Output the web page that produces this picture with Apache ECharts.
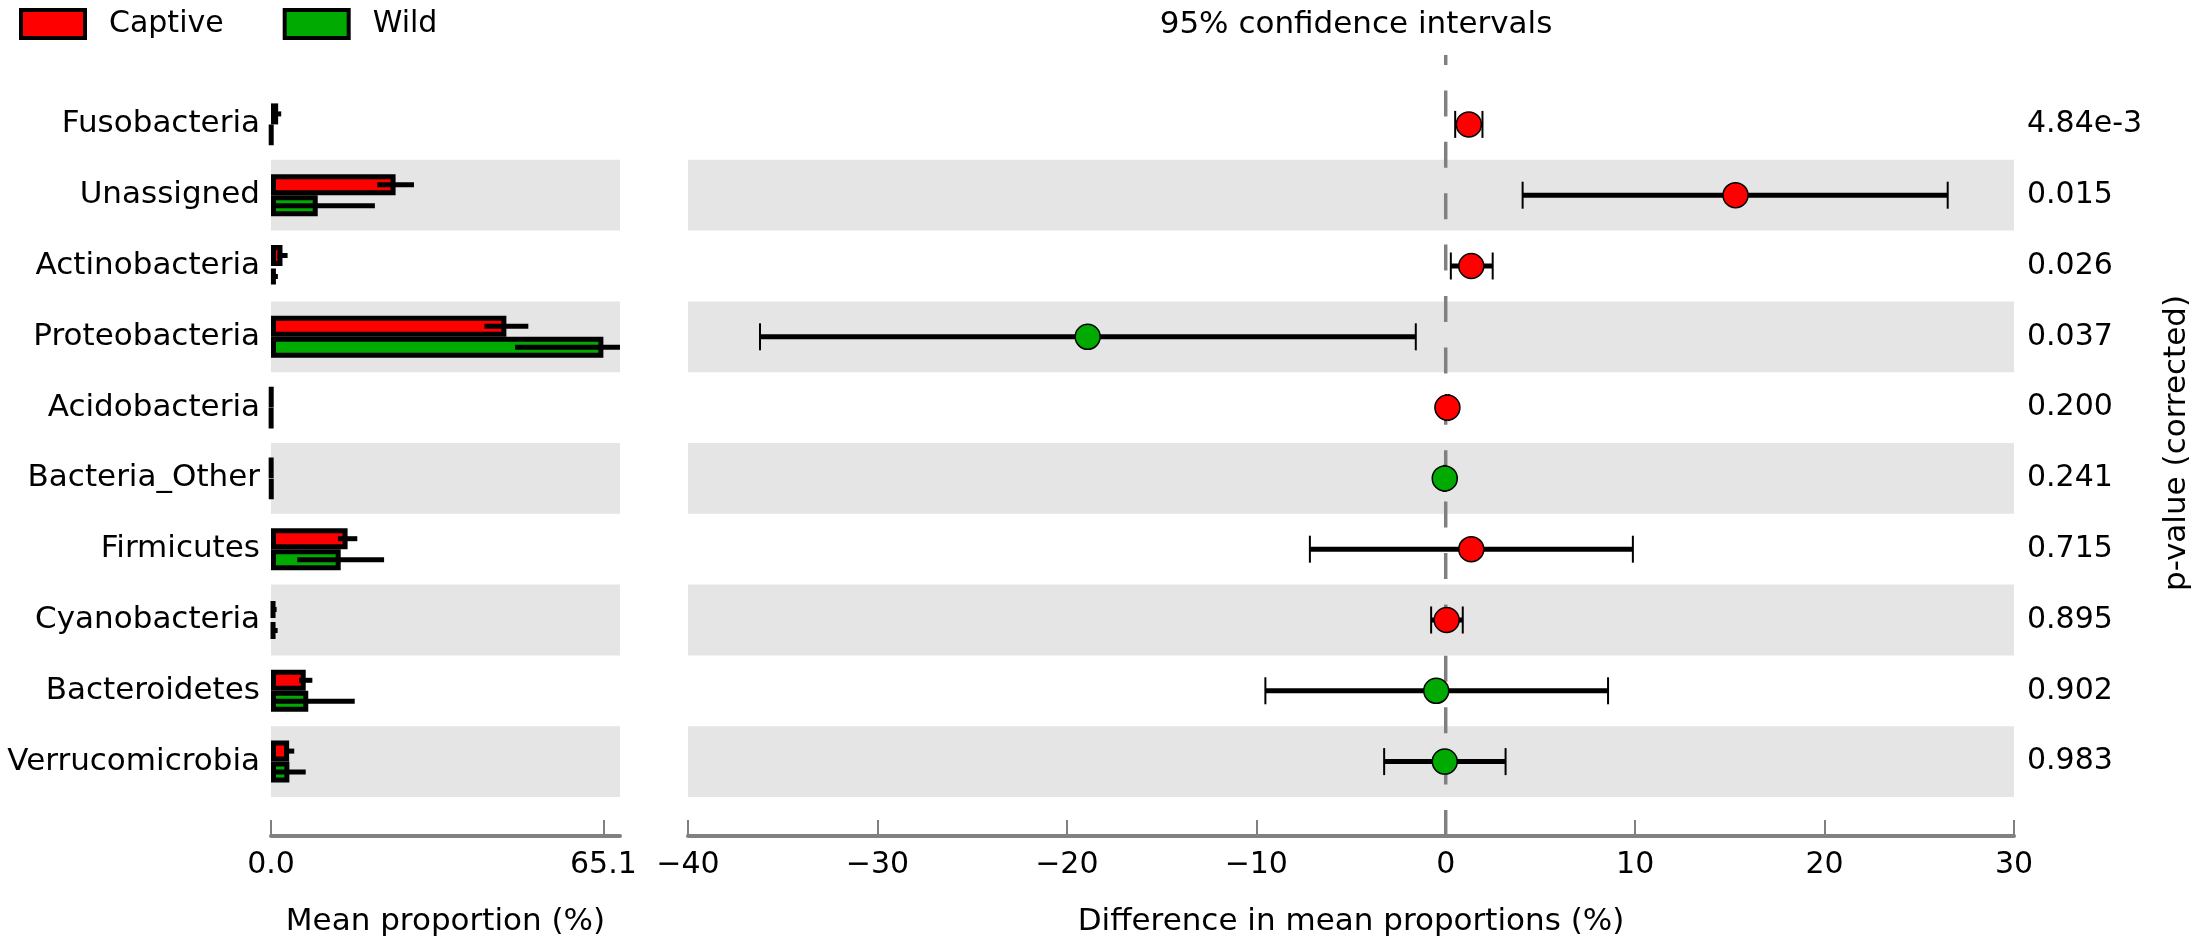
<!DOCTYPE html>
<html>
<head>
<meta charset="utf-8">
<script src="https://cdn.jsdelivr.net/npm/echarts@6/dist/echarts.min.js"></script>
<style>
  html, body { margin: 0; padding: 0; background: #fff; }
  #chart { width: 2202px; height: 951px; }
</style>
</head>
<body>
<div id="chart"></div>
<script>
// ---------- data ----------
const categories = ['Fusobacteria', 'Unassigned', 'Actinobacteria', 'Proteobacteria', 'Acidobacteria',
  'Bacteria_Other', 'Firmicutes', 'Cyanobacteria', 'Bacteroidetes', 'Verrucomicrobia'];
const captiveMean = [1.4, 24.4, 2.25, 46.1, 0.08, 0.06, 15.0, 0.8, 6.8, 3.55];
const captiveSd   = [0.6, 3.6, 1.0, 4.3, 0.05, 0.05, 1.9, 0.3, 1.3, 1.0];
const wildMean    = [0.08, 9.15, 0.95, 65.1, 0.05, 0.1, 13.65, 0.8, 7.3, 3.6];
const wildSd      = [0.05, 11.2, 0.4, 17.3, 0.05, 0.05, 8.5, 0.5, 9.1, 3.2];
const diffMean    = [1.22, 15.3, 1.35, -18.9, 0.09, -0.05, 1.35, 0.05, -0.5, -0.05];
const ciLow       = [0.5, 4.06, 0.27, -36.2, 0.02, -0.1, -7.17, -0.77, -9.52, -3.25];
const ciHigh      = [1.94, 26.5, 2.48, -1.58, 0.16, 0.0, 9.88, 0.9, 8.57, 3.16];
const pValues     = ['4.84e-3', '0.015', '0.026', '0.037', '0.200', '0.241', '0.715', '0.895', '0.902', '0.983'];
const leftTicks   = [0, 65.1];
const rightTicks  = [-40, 30, 10]; // min, max, step
const zeroLine    = [[0, 1], [0, 0]];

// ---------- styling constants ----------
const RED = '#ff0000', GREEN = '#00aa00', BAND = '#e5e5e5', AXIS = '#808080';
const FONT = 'DejaVu Sans';
const BAR_W = 21;
const leftMax = leftTicks[1] * 1.05;

const errData = [];
categories.forEach((c, i) => {
  errData.push([captiveMean[i], i, captiveSd[i], -1]);
  errData.push([wildMean[i], i, wildSd[i], 1]);
});
const ciData = categories.map((c, i) => [ciLow[i], ciHigh[i], i]);
const diffData = categories.map((c, i) => [diffMean[i], i]);

function renderErr(params, api) {
  const mean = api.value(0), idx = api.value(1), sd = api.value(2), side = api.value(3);
  const lo = Math.max(mean - sd, 0), hi = Math.min(mean + sd, leftMax);
  const p1 = api.coord([lo, idx]), p2 = api.coord([hi, idx]);
  const y = p1[1] + side * BAR_W / 2;
  return { type: 'line', shape: { x1: p1[0], y1: y, x2: p2[0], y2: y },
           style: { stroke: '#000', lineWidth: 5 } };
}
function renderCI(params, api) {
  const lo = api.value(0), hi = api.value(1), idx = api.value(2);
  const p1 = api.coord([lo, idx]), p2 = api.coord([hi, idx]);
  const cap = 13.5;
  return { type: 'group', children: [
    { type: 'line', shape: { x1: p1[0], y1: p1[1], x2: p2[0], y2: p2[1] }, style: { stroke: '#000', lineWidth: 5 } },
    { type: 'line', shape: { x1: p1[0], y1: p1[1] - cap, x2: p1[0], y2: p1[1] + cap }, style: { stroke: '#000', lineWidth: 2 } },
    { type: 'line', shape: { x1: p2[0], y1: p2[1] - cap, x2: p2[0], y2: p2[1] + cap }, style: { stroke: '#000', lineWidth: 2 } }
  ]};
}

const axisLineStyle = { show: true, lineStyle: { color: AXIS, width: 4 } };
const labelStyle = { fontSize: 30, color: '#000', fontFamily: FONT };
const catStyle = { fontSize: 31, color: '#000', fontFamily: FONT };
const nameStyle = { fontSize: 31, color: '#000', fontFamily: FONT };
const fmtMinus = v => (v < 0 ? '\u2212' + Math.abs(v) : String(v));

const chart = echarts.init(document.getElementById('chart'), null, { renderer: 'canvas' });
chart.setOption({
  animation: false,
  backgroundColor: '#fff',
  textStyle: { fontFamily: FONT },
  title: {
    text: '95% confidence intervals', left: 1351, top: 4, textAlign: 'center',
    textStyle: { fontSize: 31, fontWeight: 'normal', color: '#000', fontFamily: FONT }
  },
  legend: {
    data: ['Captive', 'Wild'], left: 19, top: 8, padding: 0, icon: 'rect',
    itemWidth: 64, itemHeight: 28, itemGap: 59,
    itemStyle: { borderColor: '#000', borderWidth: 4 },
    textStyle: { fontSize: 30, color: '#000', fontFamily: FONT, padding: [0, 0, 0, 19] }
  },
  grid: [
    { left: 271, right: 2202 - 620, top: 89, bottom: 951 - 797 },
    { left: 688, right: 2202 - 2014, top: 89, bottom: 951 - 797 },
    { left: 688, right: 2202 - 2014, top: 55, bottom: 951 - 836 }
  ],
  xAxis: [
    { type: 'value', gridIndex: 0, min: 0, max: leftMax, offset: 39,
      axisLine: axisLineStyle,
      axisTick: { show: true, inside: true, length: 16, lineStyle: { color: AXIS, width: 2 }, customValues: leftTicks },
      axisLabel: Object.assign({ margin: 14, customValues: leftTicks, formatter: v => v.toFixed(1) }, labelStyle),
      splitLine: { show: false },
      name: 'Mean proportion (%)', nameLocation: 'middle', nameGap: 70,
      nameTextStyle: nameStyle },
    { type: 'value', gridIndex: 1, min: rightTicks[0], max: rightTicks[1], interval: rightTicks[2], offset: 39,
      axisLine: axisLineStyle,
      axisTick: { show: true, inside: true, length: 16, lineStyle: { color: AXIS, width: 2 } },
      axisLabel: Object.assign({ margin: 14, formatter: fmtMinus }, labelStyle),
      splitLine: { show: false },
      name: 'Difference in mean proportions (%)', nameLocation: 'middle', nameGap: 70,
      nameTextStyle: nameStyle },
    { type: 'value', gridIndex: 2, min: rightTicks[0], max: rightTicks[1], show: false }
  ],
  yAxis: [
    { type: 'category', gridIndex: 0, data: categories, inverse: true,
      axisLine: { show: false }, axisTick: { show: false },
      axisLabel: Object.assign({ margin: 11, interval: 0 }, catStyle),
      splitArea: { show: true, interval: 0, areaStyle: { color: ['rgba(255,255,255,0)', BAND] } } },
    { type: 'category', gridIndex: 1, data: categories, inverse: true,
      axisLine: { show: false }, axisTick: { show: false }, axisLabel: { show: false },
      splitArea: { show: true, interval: 0, areaStyle: { color: ['rgba(255,255,255,0)', BAND] } } },
    { type: 'category', gridIndex: 1, data: pValues, inverse: true, position: 'right',
      axisLine: { show: false }, axisTick: { show: false },
      axisLabel: Object.assign({ margin: 13, interval: 0 }, labelStyle),
      splitArea: { show: false }, splitLine: { show: false },
      name: 'p-value (corrected)', nameLocation: 'middle', nameRotate: 90, nameGap: 147,
      nameTextStyle: nameStyle },
    { type: 'value', gridIndex: 2, min: 0, max: 1, show: false }
  ],
  series: [
    { name: 'Captive', type: 'bar', xAxisIndex: 0, yAxisIndex: 0, data: captiveMean,
      barWidth: BAR_W, barGap: '0%',
      itemStyle: { color: RED, borderColor: '#000', borderWidth: 5 } },
    { name: 'Wild', type: 'bar', xAxisIndex: 0, yAxisIndex: 0, data: wildMean,
      barWidth: BAR_W, barGap: '0%',
      itemStyle: { color: GREEN, borderColor: '#000', borderWidth: 5 } },
    { type: 'custom', xAxisIndex: 0, yAxisIndex: 0, data: errData, renderItem: renderErr,
      encode: { x: 0, y: 1 }, z: 5 },
    { type: 'line', xAxisIndex: 2, yAxisIndex: 3, data: zeroLine, symbol: 'none', z: 1,
      lineStyle: { color: AXIS, width: 3.5, type: [26, 25.4], dashOffset: 16 } },
    { type: 'custom', xAxisIndex: 1, yAxisIndex: 1, data: ciData, renderItem: renderCI,
      encode: { x: [0, 1], y: 2 }, z: 4 },
    { type: 'scatter', xAxisIndex: 1, yAxisIndex: 1, data: diffData, symbol: 'circle', symbolSize: 25, z: 6,
      itemStyle: { color: p => (p.value[0] >= 0 ? RED : GREEN), borderColor: '#000', borderWidth: 1.5, opacity: 1 } }
  ]
});
</script>
</body>
</html>
